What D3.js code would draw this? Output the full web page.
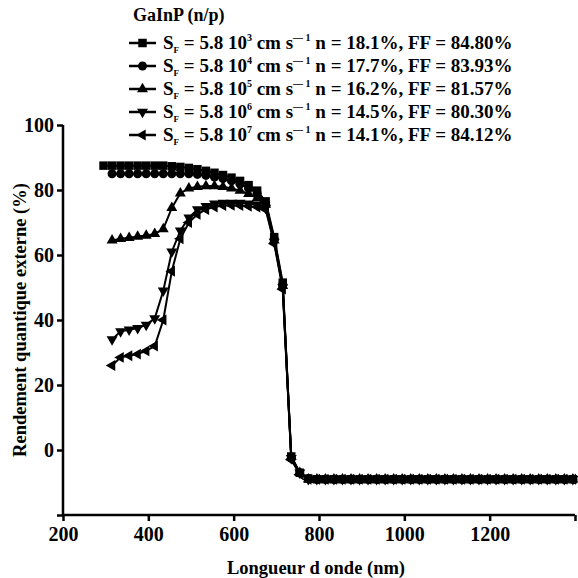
<!DOCTYPE html>
<html><head><meta charset="utf-8">
<script src="https://cdn.jsdelivr.net/npm/d3@7"></script>
<style>body{margin:0;background:#fff}svg{display:block}</style>
</head><body><svg id="c" width="578" height="578"></svg>
<script>
const wavelengths = [295,315,335,355,375,395,415,435,455,475,495,515,535,555,575,595,615,635,655,675,695,715,735,755,775,
795,815,835,855,875,895,915,935,955,975,995,1015,1035,1055,1075,1095,1115,1135,1155,1175,1195,1215,1235,1255,1275,1295,1315,1335,1355,1375,1395];
const tail = [-9,-9,-9,-9,-9,-9,-9,-9,-9,-9,-9,-9,-9,-9,-9,-9,-9,-9,-9,-9,-9,-9,-9,-9,-9,-9,-9,-9,-9,-9,-9];
const sq  = [87.5,87.5,87.5,87.5,87.5,87.5,87.5,87.5,87.3,87.1,86.8,86.4,85.9,85.3,84.6,83.8,82.8,81.5,79.8,76.5,65.5,51.5,-2,-7,-8.8].concat(tail);
const ci  = [null,85,85,85,85,85,85,85,85,85,85,84.8,84.5,84,83.5,82.8,81.8,80.5,79,76,65,51,-2.5,-7,-8.8].concat(tail);
const up  = [null,64.5,65,65.3,65.7,66,66.5,68,74.5,79,80.5,81,81.2,81.2,81,80.5,79.8,78.8,77.5,75.5,64.5,50.5,-2,-7,-9].concat(tail);
const dn  = [null,34,36.5,37,37.5,38.5,40.5,49,61,67.5,71.5,74,75,75.8,76,76,76,75.8,75.5,74.5,64,50,-2.5,-7,-9].concat(tail);
const lt  = [null,26,28.5,29,29.5,30.5,32,40,55,65,70,72.5,74,74.8,75.2,75.3,75.2,75,74.8,74,63.5,49.5,-3,-7.5,-9].concat(tail);
const seriesNames = ["sq","ci","up","dn","lt"];
const seriesValues = [sq,ci,up,dn,lt];
const exponents = ["3","4","5","6","7"];
const etaLabels = ["18.1%","17.7%","16.2%","14.5%","14.1%"];
const ffLabels = ["84.80%","83.93%","81.57%","80.30%","84.12%"];
const xTicks = [200,400,600,800,1000,1200,1400];
const yTicks = [-20,0,20,40,60,80,100];

const FONT = 'Liberation Serif';
const svg = d3.select("#c");
const x = d3.scaleLinear().domain([200,1400]).range([63,575]);
const y = d3.scaleLinear().domain([-20,100]).range([515,125]);

const shapes = {
  sq: d3.symbol().type(d3.symbolSquare).size(72),
  ci: d3.symbol().type(d3.symbolCircle).size(64),
  up: d3.symbol().type(d3.symbolTriangle).size(52),
  dn: d3.symbol().type(d3.symbolTriangle).size(52),
  lt: d3.symbol().type(d3.symbolTriangle).size(52)
};
const rot = {sq:0,ci:0,up:0,dn:180,lt:-90};

const line = d3.line().defined(d=>d[1]!=null).x(d=>x(d[0])).y(d=>y(d[1]));
seriesNames.forEach((name,i)=>{
  const pts = wavelengths.map((w,j)=>[w,seriesValues[i][j]]);
  svg.append("path").attr("d",line(pts)).attr("fill","none").attr("stroke","#000").attr("stroke-width",2);
  svg.append("g").selectAll("path").data(pts.filter(d=>d[1]!=null)).join("path")
    .attr("d",shapes[name]())
    .attr("transform",d=>`translate(${x(d[0])},${y(d[1])}) rotate(${rot[name]})`)
    .attr("fill","#000");
});

// axes
const xa = svg.append("g").attr("transform","translate(0,515)")
  .call(d3.axisBottom(x).tickValues(xTicks).tickSize(6).tickPadding(6).tickFormat(d=>d===1400?"":d));
const ya = svg.append("g").attr("transform","translate(63,0)")
  .call(d3.axisLeft(y).tickValues(yTicks).tickSize(6).tickPadding(3).tickFormat(d=>d===-20?"":d));
[xa,ya].forEach(a=>{
  a.attr("font-family",FONT).attr("font-size",20).attr("font-weight","bold");
  a.select(".domain").attr("stroke","#000").attr("stroke-width",2.5);
  a.selectAll(".tick line").attr("stroke","#000").attr("stroke-width",2.5);
  a.selectAll(".tick text").attr("font-family",FONT).attr("font-weight","bold").attr("font-size",20).attr("fill","#000");
});
ya.select(".domain").attr("d","M0,125V515");
xa.select(".domain").attr("d","M63,0H575");

function txt(sel){ return sel.attr("font-family",FONT).attr("font-weight","bold").attr("fill","#000"); }

txt(svg.append("text")).attr("x",316).attr("y",574).attr("text-anchor","middle").attr("font-size",18.5).text("Longueur d onde (nm)");
txt(svg.append("text")).attr("transform","translate(26,320) rotate(-90)").attr("text-anchor","middle").attr("font-size",18.5).text("Rendement quantique externe (%)");

// legend
txt(svg.append("text")).attr("x",133).attr("y",21).attr("font-size",18).text("GaInP (n/p)");
const rowY = [43,66,89,112,135];
seriesNames.forEach((name,i)=>{
  const g = svg.append("g").attr("transform",`translate(0,${rowY[i]})`);
  g.append("line").attr("x1",129).attr("x2",156).attr("stroke","#000").attr("stroke-width",2.5);
  g.append("path").attr("d",shapes[name]()).attr("transform",`translate(142.5,0) rotate(${rot[name]})`);
  const t = txt(g.append("text")).attr("x",163).attr("y",6).attr("font-size",19);
  t.append("tspan").text("S");
  t.append("tspan").attr("dy",4).attr("font-size",9).text("F");
  t.append("tspan").attr("dy",-4).text(" = 5.8 10");
  t.append("tspan").attr("dy",-8).attr("font-size",10).text(exponents[i]);
  t.append("tspan").attr("dy",8).text(" cm s");
  t.append("tspan").attr("dy",-8).attr("font-size",10).text("\u2014\u00a01");
  t.append("tspan").attr("dy",8).text(" n = "+etaLabels[i]+", FF = "+ffLabels[i]);
});
</script></body></html>
